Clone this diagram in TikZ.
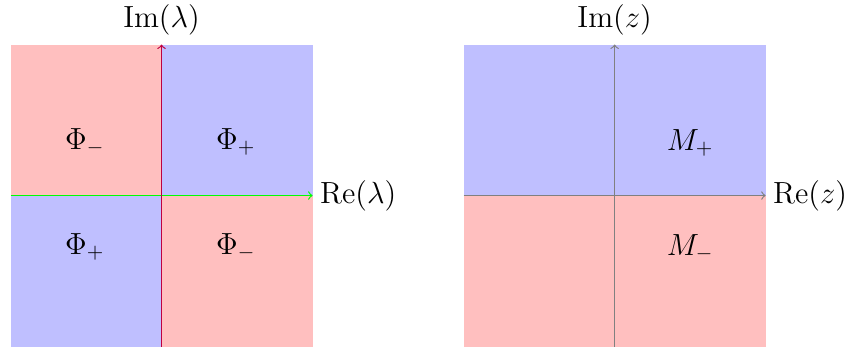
\documentclass[tikz,border=0pt]{standalone}
\definecolor{axgreen}{RGB}{0,255,0}
\begin{document}
\begin{tikzpicture}[x=1cm,y=1cm,
  every node/.style={font=\Large},
  ax/.style={->,line width=0.55pt}]
\useasboundingbox (-2.674,-2.508) rectangle (11.38,3.237);
% left plane
\fill[red!25] (-2.5,0) rectangle (0,2.5);
\fill[blue!25] (0,0) rectangle (2.5,2.5);
\fill[blue!25] (-2.5,-2.5) rectangle (0,0);
\fill[red!25] (0,-2.5) rectangle (2.5,0);
\coordinate (lw) at (-2.5,0);
\coordinate (le) at (2.5,0);
\coordinate (ls) at (0,-2.5);
\coordinate (ln) at (0,2.5);
\draw[ax,axgreen] (lw) -- (le);
\draw[ax,purple] (ls) -- (ln);
\node[anchor=west] (lre) at (le) {$\mathrm{Re}(\lambda)$};
\node (lim) at (0,2.91) {$\mathrm{Im}(\lambda)$};
\node (p1) at (-1.27,0.89) {$\Phi_-$};
\node (p2) at (1.23,0.89) {$\Phi_+$};
\node (p3) at (-1.27,-0.85) {$\Phi_+$};
\node (p4) at (1.23,-0.85) {$\Phi_-$};
% right plane
\begin{scope}[xshift=7.5cm]
\fill[blue!25] (-2.5,0) rectangle (2.5,2.5);
\fill[red!25] (-2.5,-2.5) rectangle (2.5,0);
\coordinate (rw) at (-2.5,0);
\coordinate (re) at (2.5,0);
\coordinate (rs) at (0,-2.5);
\coordinate (rn) at (0,2.5);
\draw[ax,gray] (rw) -- (re);
\draw[ax,gray] (rs) -- (rn);
\node[anchor=west] (rre) at (re) {$\mathrm{Re}(z)$};
\node (rim) at (0,2.91) {$\mathrm{Im}(z)$};
\node (m1) at (1.25,0.87) {$M_+$};
\node (m2) at (1.25,-0.87) {$M_-$};
\end{scope}
\end{tikzpicture}
\end{document}
